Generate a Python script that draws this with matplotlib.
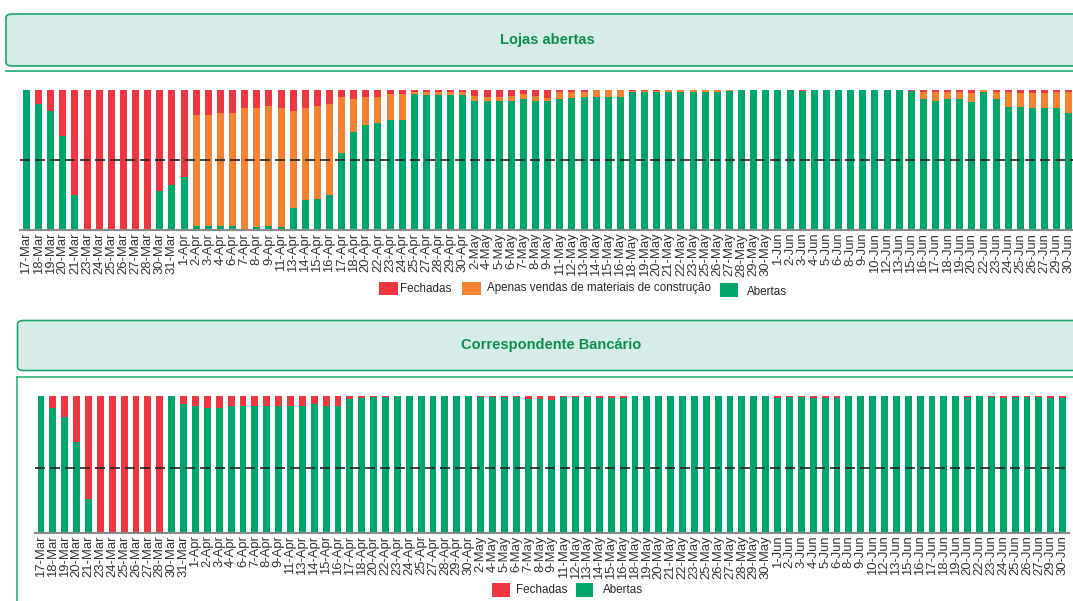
import matplotlib
matplotlib.use("Agg")
import matplotlib.pyplot as plt
from matplotlib.patches import Rectangle, FancyBboxPatch
from matplotlib.lines import Line2D

plt.rcParams['font.family'] = ['Liberation Sans', 'DejaVu Sans']

# ---------------- data ----------------
dates = ["17-Mar", "18-Mar", "19-Mar", "20-Mar", "21-Mar", "23-Mar", "24-Mar", "25-Mar", "26-Mar",
         "27-Mar", "28-Mar", "30-Mar", "31-Mar",
         "1-Apr", "2-Apr", "3-Apr", "4-Apr", "6-Apr", "7-Apr", "8-Apr", "9-Apr", "11-Apr", "13-Apr",
         "14-Apr", "15-Apr", "16-Apr", "17-Apr", "18-Apr", "20-Apr", "22-Apr", "23-Apr", "24-Apr",
         "25-Apr", "27-Apr", "28-Apr", "29-Apr", "30-Apr",
         "2-May", "4-May", "5-May", "6-May", "7-May", "8-May", "9-May", "11-May", "12-May", "13-May",
         "14-May", "15-May", "16-May", "18-May", "19-May", "20-May", "21-May", "22-May", "23-May",
         "25-May", "26-May", "27-May", "28-May", "29-May", "30-May",
         "1-Jun", "2-Jun", "3-Jun", "4-Jun", "5-Jun", "6-Jun", "8-Jun", "9-Jun", "10-Jun", "12-Jun",
         "13-Jun", "15-Jun", "16-Jun", "17-Jun", "18-Jun", "19-Jun", "20-Jun", "22-Jun", "23-Jun",
         "24-Jun", "25-Jun", "26-Jun", "27-Jun", "29-Jun", "30-Jun"]

# Lojas abertas (%)
lojas_abertas = [100, 90, 85, 67, 25, 0, 0, 0, 0, 0, 0, 28, 32,
                 38, 3, 3, 3, 3, 1, 2, 3, 2, 16, 21, 22, 25, 55, 70, 75, 76, 78, 78,
                 97, 96, 96, 96, 96,
                 92, 92, 92, 92, 93, 92, 92, 93, 94, 94.5, 95, 95, 95, 98.5, 98.5, 98.5, 98.5,
                 98.5, 98.5, 98.5, 98.5, 99, 100, 100, 100,
                 100, 100, 99, 99.5, 99.5, 99.5, 100, 100, 100, 100, 100, 99, 93, 92, 93, 93,
                 91, 98, 93, 87.5, 87.5, 86.5, 86.5, 86.5, 83]
lojas_apenas = [0, 0, 0, 0, 0, 0, 0, 0, 0, 0, 0, 0, 0,
                0, 79, 79, 80, 80, 86, 85, 85, 85, 69, 66, 66.5, 64.5, 40, 23, 20, 19, 18.5, 18.5,
                1.5, 2, 2, 2, 2,
                3.5, 3, 3, 3.5, 3.5, 3.5, 2, 5.5, 4.5, 4, 4.5, 4.5, 4.5, 0.5, 0.5, 0.5, 1,
                1, 1, 1, 1, 0.5, 0, 0, 0,
                0, 0, 0, 0.5, 0.5, 0, 0, 0, 0, 0, 0, 0, 5.5, 6.5, 5.5, 5.5,
                6.5, 2, 5.5, 10.5, 10, 11, 11, 12, 15.5]
lojas_fechadas = [0, 10, 15, 33, 75, 100, 100, 100, 100, 100, 100, 72, 68,
                  62, 18, 18, 17, 17, 13, 13, 12, 13, 15, 13, 11.5, 10.5, 5, 7, 5, 5, 3.5, 3.5,
                  1.5, 2, 2, 2, 2,
                  4.5, 5, 5, 4.5, 3.5, 4.5, 6, 1.5, 1.5, 1.5, 0.5, 0.5, 0.5, 1, 1, 1, 0.5,
                  0.5, 0.5, 0.5, 0.5, 0.5, 0, 0, 0,
                  0, 0, 1, 0, 0, 0.5, 0, 0, 0, 0, 0, 1, 1.5, 1.5, 1.5, 1.5,
                  2.5, 0, 1.5, 2, 2.5, 2.5, 2.5, 1.5, 1.5]

# Correspondente Bancário (%)
banco_abertas = [100, 91, 84.5, 66.5, 25, 0, 0, 0, 0, 0, 0, 100, 94,
                 92.5, 91, 91, 92.5, 92.5, 93, 93, 93, 92.5, 93, 94, 93, 93, 97.5, 98.5, 99.3, 99.3,
                 100, 100, 100, 100, 100, 100, 100,
                 99.2, 99.2, 99.5, 99.5, 97.5, 97.5, 97, 99, 99.3, 99.3, 98.8, 98.8, 98.8,
                 100, 100, 100, 100, 100, 100, 100, 100, 100, 100, 100, 100,
                 98.8, 99.3, 99.3, 98.8, 98.8, 98.8, 100, 100, 100, 100, 100, 100, 100, 100, 100, 100,
                 99.3, 100, 99.5, 98.8, 99.3, 99.3, 99.3, 98.8, 98.8]
banco_fechadas = [0, 9, 15.5, 33.5, 75, 100, 100, 100, 100, 100, 100, 0, 6,
                  7.5, 9, 9, 7.5, 7.5, 7, 7, 7, 7.5, 7, 6, 7, 7, 2.5, 1.5, 0.7, 0.7,
                  0, 0, 0, 0, 0, 0, 0,
                  0.8, 0.8, 0.5, 0.5, 2.5, 2.5, 3, 1, 0.7, 0.7, 1.2, 1.2, 1.2,
                  0, 0, 0, 0, 0, 0, 0, 0, 0, 0, 0, 0,
                  1.2, 0.7, 0.7, 1.2, 1.2, 1.2, 0, 0, 0, 0, 0, 0, 0, 0, 0, 0,
                  0.7, 0, 0.5, 1.2, 0.7, 0.7, 0.7, 1.2, 1.2]

ref_lojas = 50
ref_banco = 47

C_GREEN = "#00A66A"
C_ORANGE = "#F58230"
C_RED = "#EE3740"
BANNER_FILL = "#D6ECE8"
BORDER = "#1FA46C"
TITLE_C = "#0B8F4E"

W, H = 1073, 601
fig = plt.figure(figsize=(W / 100, H / 100), dpi=100)
fig.patch.set_facecolor("white")


def fx(x):
    return x / W


def fy(y):
    return 1 - y / H


def add_axes_px(left, top, right, bottom):
    return fig.add_axes([fx(left), fy(bottom), (right - left) / W, (bottom - top) / H])


# ---------------- banners ----------------
def banner(x0, y0, y1, title, tx):
    p = FancyBboxPatch((fx(x0), fy(y1)), fx(W + 20 - x0), (y1 - y0) / H,
                       boxstyle="round,pad=0,rounding_size=0.006",
                       transform=fig.transFigure, facecolor=BANNER_FILL,
                       edgecolor=BORDER, linewidth=1.2, zorder=0)
    fig.patches.append(p)
    fig.text(fx(tx), fy((y0 + y1) / 2), title, ha="center", va="center",
             fontsize=10.5, fontweight="bold", color=TITLE_C)


banner(6, 14, 66, "Lojas abertas", 547)
fig.lines.append(Line2D([fx(6), 1], [fy(70.5), fy(70.5)], transform=fig.transFigure,
                        color="#2DB57C", linewidth=1.3))

banner(17.5, 320.5, 370.5, "Correspondente Bancário", 551)
# box around bottom chart
fig.lines.append(Line2D([fx(17.5), 1], [fy(376.5), fy(376.5)], transform=fig.transFigure,
                        color="#2DB57C", linewidth=1.2))
fig.lines.append(Line2D([fx(17.5), fx(17.5)], [fy(376.5), 0], transform=fig.transFigure,
                        color="#2DB57C", linewidth=1.2))

# ---------------- charts ----------------
n = len(dates)
x = list(range(n))
bw = 0.58

ax1 = add_axes_px(26.5 - 0.55 * 12.12, 89.5, 26.5 + (n - 1 + 0.55) * 12.12, 230)
ax1.bar(x, lojas_abertas, width=bw, color=C_GREEN, linewidth=0)
bot = [a for a in lojas_abertas]
ax1.bar(x, lojas_apenas, width=bw, bottom=bot, color=C_ORANGE, linewidth=0)
bot2 = [a + b for a, b in zip(lojas_abertas, lojas_apenas)]
ax1.bar(x, lojas_fechadas, width=bw, bottom=bot2, color=C_RED, linewidth=0)
ax1.axhline(ref_lojas, color="#222222", linestyle=(0, (6, 3)), linewidth=1.2, zorder=3)
ax1.set_xlim(-0.55, n - 1 + 0.55)
ax1.set_ylim(0, 100)

ax2 = add_axes_px(41 - 0.5 * 11.88, 396, 41 + (n - 1 + 0.5) * 11.88, 532.7)
ax2.bar(x, banco_abertas, width=bw, color=C_GREEN, linewidth=0)
ax2.bar(x, banco_fechadas, width=bw, bottom=banco_abertas, color=C_RED, linewidth=0)
ax2.axhline(ref_banco, color="#222222", linestyle=(0, (6, 3)), linewidth=1.2, zorder=3)
ax2.set_xlim(-0.5, n - 1 + 0.5)
ax2.set_ylim(0, 100)

for ax in (ax1, ax2):
    ax.set_facecolor("none")
    for s in ("top", "left", "right"):
        ax.spines[s].set_visible(False)
    ax.spines["bottom"].set_color("#8A8A8A")
    ax.spines["bottom"].set_linewidth(1.5)
    ax.set_yticks([])
    ax.set_xticks(x)
    ax.set_xticklabels(dates, rotation=90, fontsize=9.4, color="#333333")
    ax.tick_params(axis="x", length=0, pad=2)


# ---------------- legends ----------------
def legend_item(x0, x1, y0, y1, color, label, tx, ty):
    fig.patches.append(Rectangle((fx(x0), fy(y1)), (x1 - x0) / W, (y1 - y0) / H,
                                 transform=fig.transFigure, facecolor=color, edgecolor="none"))
    fig.text(fx(tx), fy(ty), label, ha="left", va="center", fontsize=8.4, color="#262626")


legend_item(379, 398, 282, 295, C_RED, "Fechadas", 400, 289)
legend_item(462, 481, 282, 295, C_ORANGE, "Apenas vendas de materiais de construção", 487, 288)
legend_item(720, 738, 283, 297, C_GREEN, "Abertas", 747, 292)

legend_item(491.7, 510, 583.3, 596.7, C_RED, "Fechadas", 516, 590)
legend_item(575.7, 593.3, 583.3, 596.7, C_GREEN, "Abertas", 603, 590)

fig.savefig("out.png", dpi=100)
